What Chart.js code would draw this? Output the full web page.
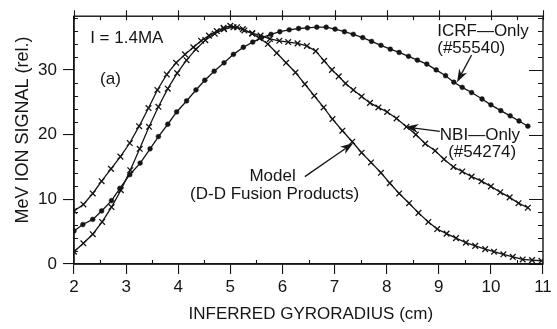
<!DOCTYPE html>
<html>
<head>
<meta charset="utf-8">
<script src="https://cdn.jsdelivr.net/npm/chart.js@4.4.1/dist/chart.umd.min.js"></script>
<style>
  html, body { margin: 0; padding: 0; background: #fff; }
  canvas { display: block; }
</style>
</head>
<body>
<canvas id="chart" width="557" height="329"></canvas>
<script>
// gyroradius (cm) / relative signal, one pair of arrays per curve
const icrfX = [2.00, 2.17, 2.36, 2.53, 2.72, 2.88, 3.07, 3.27, 3.46, 3.62, 3.80, 3.97, 4.16, 4.34, 4.51, 4.69, 4.88, 5.06, 5.25, 5.43, 5.60, 5.78, 5.95, 6.13, 6.31, 6.48, 6.66, 6.84, 7.01, 7.19, 7.36, 7.54, 7.71, 7.89, 8.07, 8.24, 8.42, 8.59, 8.77, 8.95, 9.13, 9.29, 9.45, 9.63, 9.83, 10.00, 10.19, 10.37, 10.54, 10.71];
const icrfY = [5.1, 6.1, 6.9, 8.2, 9.8, 11.7, 13.8, 15.6, 17.8, 19.7, 21.6, 23.5, 25.2, 26.9, 28.4, 29.8, 31.1, 32.4, 33.5, 34.3, 35.0, 35.5, 35.9, 36.2, 36.4, 36.5, 36.6, 36.6, 36.3, 35.9, 35.5, 35.0, 34.4, 33.8, 33.2, 32.7, 32.1, 31.5, 30.9, 30.0, 29.1, 28.1, 27.3, 26.5, 25.5, 24.6, 23.7, 22.9, 22.1, 21.3];

const nbiX = [2.00, 2.18, 2.36, 2.53, 2.71, 2.89, 3.07, 3.25, 3.43, 3.60, 3.78, 3.96, 4.13, 4.29, 4.44, 4.59, 4.74, 4.87, 5.00, 5.13, 5.27, 5.42, 5.58, 5.76, 5.94, 6.11, 6.29, 6.47, 6.64, 6.80, 6.95, 7.08, 7.21, 7.36, 7.52, 7.68, 7.84, 8.01, 8.19, 8.38, 8.56, 8.74, 8.93, 9.10, 9.28, 9.45, 9.63, 9.82, 10.00, 10.18, 10.36, 10.53, 10.71];
const nbiY = [8.2, 9.2, 10.9, 12.8, 14.7, 16.6, 18.7, 21.3, 24.1, 26.9, 29.3, 31.1, 32.4, 33.5, 34.5, 35.3, 36.0, 36.5, 36.8, 36.6, 36.1, 35.7, 35.3, 34.8, 34.5, 34.3, 34.1, 33.7, 32.9, 31.4, 30.0, 29.0, 27.9, 26.9, 25.9, 24.9, 24.2, 23.5, 22.5, 21.2, 20.0, 18.6, 17.5, 16.2, 15.0, 14.3, 13.5, 12.8, 12.0, 11.1, 10.3, 9.4, 8.7];

const modelX = [2.00, 2.18, 2.36, 2.54, 2.72, 2.90, 3.08, 3.26, 3.44, 3.62, 3.80, 3.98, 4.16, 4.34, 4.52, 4.70, 4.88, 5.06, 5.24, 5.42, 5.56, 5.72, 5.89, 6.07, 6.25, 6.43, 6.61, 6.79, 6.96, 7.15, 7.34, 7.52, 7.70, 7.89, 8.06, 8.24, 8.43, 8.61, 8.80, 8.97, 9.15, 9.33, 9.52, 9.70, 9.89, 10.06, 10.24, 10.42, 10.61, 10.79, 10.97];
const modelY = [1.9, 3.2, 4.6, 6.5, 8.8, 11.4, 14.5, 17.8, 21.2, 24.3, 27.1, 29.5, 31.5, 33.2, 34.6, 35.6, 36.3, 36.6, 36.3, 35.6, 34.9, 34.0, 32.6, 31.1, 29.6, 27.8, 26.0, 24.2, 22.4, 20.6, 18.9, 17.2, 15.7, 14.1, 12.5, 10.9, 9.4, 7.9, 6.5, 5.4, 4.7, 4.0, 3.3, 2.8, 2.3, 1.9, 1.5, 1.1, 0.7, 0.6, 0.5];

const xTicks = [2, 3, 4, 5, 6, 7, 8, 9, 10, 11];
const yTicks = [0, 10, 20, 30];

const FONT = '"Liberation Sans", Arial, Helvetica, sans-serif';
const INK = '#151515';

// labels and arrows, placed in data units
const notes = [
  { text: 'I = 1.4MA', x: 2.31, y: 34.9, align: 'left' },
  { text: '(a)', x: 2.50, y: 28.5, align: 'left' },
  { text: 'ICRF\u2014Only', x: 8.97, y: 35.9, align: 'left' },
  { text: '(#55540)', x: 8.97, y: 33.4, align: 'left' },
  { text: 'NBI\u2014Only', x: 9.02, y: 19.9, align: 'left' },
  { text: '(#54274)', x: 9.18, y: 17.2, align: 'left' },
  { text: 'Model', x: 5.81, y: 13.6, align: 'center' },
  { text: '(D-D Fusion Products)', x: 5.85, y: 10.7, align: 'center' },
];
const arrows = [
  { from: [9.63, 32.3], to: [9.35, 28.1] },
  { from: [9.02, 20.5], to: [8.36, 21.2] },
  { from: [6.43, 13.5], to: [7.36, 18.7] },
];

const pairs = (xs, ys) => xs.map((x, i) => ({ x, y: ys[i] }));

const frameAndNotes = {
  id: 'frameAndNotes',
  afterDatasetsDraw(chart) {
    const { ctx, chartArea: a, scales: { x, y } } = chart;
    ctx.save();
    ctx.strokeStyle = INK;
    ctx.lineWidth = 1.4;
    ctx.strokeRect(a.left, a.top, a.right - a.left, a.bottom - a.top);

    ctx.beginPath();
    ctx.lineWidth = 1.1;
    for (let v = 2; v <= 11; v += 0.5) {
      const px = Math.round(x.getPixelForValue(v)) + 0.5;
      if (v % 1 === 0) {
        ctx.moveTo(px, a.top - 6); ctx.lineTo(px, a.top + 4);
      } else {
        ctx.moveTo(px, a.top); ctx.lineTo(px, a.top + 4);
        ctx.moveTo(px, a.bottom); ctx.lineTo(px, a.bottom - 4);
      }
    }
    for (let v = 0; v <= 38; v += 2) {
      const py = Math.round(y.getPixelForValue(v)) + 0.5;
      if (v % 10 === 0) {
        ctx.moveTo(a.right, py); ctx.lineTo(a.right - 14, py);
      } else {
        ctx.moveTo(a.right, py); ctx.lineTo(a.right - 5, py);
        ctx.moveTo(a.left, py); ctx.lineTo(a.left + 4, py);
      }
    }
    ctx.stroke();

    ctx.fillStyle = INK;
    ctx.font = '17px ' + FONT;
    ctx.textBaseline = 'middle';
    notes.forEach(n => {
      ctx.textAlign = n.align;
      ctx.fillText(n.text, x.getPixelForValue(n.x), y.getPixelForValue(n.y));
    });

    ctx.lineWidth = 1.3;
    arrows.forEach(ar => {
      const x0 = x.getPixelForValue(ar.from[0]), y0 = y.getPixelForValue(ar.from[1]);
      const x1 = x.getPixelForValue(ar.to[0]), y1 = y.getPixelForValue(ar.to[1]);
      const ang = Math.atan2(y1 - y0, x1 - x0);
      const len = 13, half = 4.5;
      ctx.beginPath();
      ctx.moveTo(x0, y0);
      ctx.lineTo(x1 - Math.cos(ang) * len * 0.7, y1 - Math.sin(ang) * len * 0.7);
      ctx.stroke();
      ctx.beginPath();
      ctx.moveTo(x1, y1);
      ctx.lineTo(x1 - Math.cos(ang) * len - Math.sin(ang) * half, y1 - Math.sin(ang) * len + Math.cos(ang) * half);
      ctx.lineTo(x1 - Math.cos(ang) * len * 0.7, y1 - Math.sin(ang) * len * 0.7);
      ctx.lineTo(x1 - Math.cos(ang) * len + Math.sin(ang) * half, y1 - Math.sin(ang) * len - Math.cos(ang) * half);
      ctx.closePath();
      ctx.fill();
    });
    ctx.restore();
  }
};

const lineStyle = {
  showLine: true,
  borderColor: INK,
  backgroundColor: INK,
  borderWidth: 1.3,
  pointBorderColor: INK,
  pointBackgroundColor: INK,
  tension: 0,
};

new Chart(document.getElementById('chart').getContext('2d'), {
  type: 'scatter',
  data: {
    datasets: [
      { ...lineStyle, label: 'ICRF-Only', data: pairs(icrfX, icrfY), pointStyle: 'circle', pointRadius: 2.4, pointBorderWidth: 0.5 },
      { ...lineStyle, label: 'NBI-Only', data: pairs(nbiX, nbiY), pointStyle: 'crossRot', pointRadius: 4, pointBorderWidth: 1.3 },
      { ...lineStyle, label: 'Model', data: pairs(modelX, modelY), pointStyle: 'crossRot', pointRadius: 4, pointBorderWidth: 1.3 },
    ],
  },
  options: {
    responsive: false,
    animation: false,
    events: [],
    layout: { padding: { top: 16, right: 14, left: 0, bottom: 0 } },
    plugins: { legend: { display: false }, tooltip: { enabled: false } },
    scales: {
      x: {
        type: 'linear',
        min: 2,
        max: 11,
        afterBuildTicks: (s) => { s.ticks = xTicks.map(v => ({ value: v })); },
        afterFit: (s) => { s.height = 65; },
        ticks: { color: INK, font: { family: FONT, size: 17 }, padding: 3, maxRotation: 0 },
        grid: { display: true, drawOnChartArea: false, tickLength: 10, color: INK, lineWidth: 1.1 },
        border: { display: true, color: INK, width: 1.4 },
        title: { display: true, text: ' INFERRED GYRORADIUS (cm)', color: INK, font: { family: FONT, size: 17 }, padding: { top: 0, bottom: 4 } },
      },
      y: {
        type: 'linear',
        min: 0,
        max: 38.3,
        afterBuildTicks: (s) => { s.ticks = yTicks.map(v => ({ value: v })); },
        afterFit: (s) => { s.width = 74; },
        ticks: { color: INK, font: { family: FONT, size: 17 }, padding: 6 },
        grid: { display: true, drawOnChartArea: false, tickLength: 11, color: INK, lineWidth: 1.1 },
        border: { display: true, color: INK, width: 1.4 },
        title: { display: true, text: '    MeV ION SIGNAL (rel.)', color: INK, font: { family: FONT, size: 18 }, padding: { top: 12, bottom: 0 } },
      },
    },
  },
  plugins: [frameAndNotes],
});
</script>
</body>
</html>
